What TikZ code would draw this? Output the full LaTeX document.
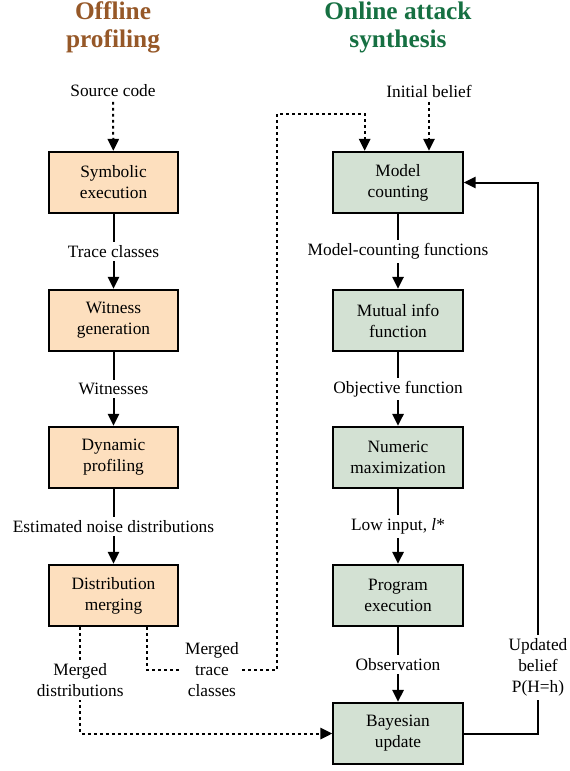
\documentclass[tikz,border=0pt]{standalone}
\usepackage{fontspec}
\setmainfont{Liberation Serif}
\usetikzlibrary{arrows.meta}
\definecolor{offfill}{RGB}{253,223,190}
\definecolor{onfill}{RGB}{211,225,211}
\definecolor{offtitle}{RGB}{150,88,40}
\definecolor{ontitle}{RGB}{22,112,66}

\begin{document}
\begin{tikzpicture}[x=0.75pt,y=-0.75pt, font=\fontsize{13}{15.75}\selectfont,
	title/.style={font=\fontsize{19}{21}\selectfont\bfseries, align=center},
	box/.style={draw, line width=1.5pt, minimum width=97pt, minimum height=46pt, align=center},
	offbox/.style={box, fill=offfill},
	onbox/.style={box, fill=onfill},
	lbl/.style={fill=white, align=center, inner sep=2.5pt},
	flow/.style={line width=1.5pt, -{Triangle[length=9pt,width=8.5pt]}},
	dots/.style={flow, dash pattern=on 2.2pt off 2.3pt}]
	\useasboundingbox (0,0) rectangle (569,771);
	% titles
	\node[title, text=offtitle] (offT) at (113,27) {Offline\\profiling};
	\node[title, text=ontitle] (onT) at (398,27) {Online attack\\synthesis};
	% offline column
	\node (src) at (113,91) {Source code};
	\node[offbox] (sym) at (113.5,182.5) {Symbolic\\execution};
	\node[offbox] (wit) at (113.5,320.5) {Witness\\generation};
	\node[offbox] (dyn) at (113.5,457.5) {Dynamic\\profiling};
	\node[offbox] (dist) at (113.5,595.5) {Distribution\\merging};
	\draw[dots] (src) -- (sym);
	\draw[flow] (sym) -- node[lbl] {Trace classes} (wit);
	\draw[flow] (wit) -- node[lbl] {Witnesses} (dyn);
	\draw[flow] (dyn) -- node[lbl] {Estimated noise distributions} (dist);
	% online column
	\node (init) at (429,91) {Initial belief};
	\node[onbox] (mc) at (398,182.5) {Model\\counting};
	\node[onbox] (mi) at (398,320.5) {Mutual info\\function};
	\node[onbox] (num) at (398,457.5) {Numeric\\maximization};
	\node[onbox] (prog) at (398,595.5) {Program\\execution};
	\node[onbox] (bay) at (398,733.5) {Bayesian\\update};
	\draw[dots] (init) -- (init |- mc.north);
	\draw[flow] (mc) -- node[lbl] {Model-counting functions} (mi);
	\draw[flow] (mi) -- node[lbl] {Objective function} (num);
	\draw[flow] (num) -- node[lbl] {Low input, \textit{l}*} (prog);
	\draw[flow] (prog) -- node[lbl] {Observation} (bay);
	% cross links
	\draw[dots] ([xshift=25pt]dist.south) |- node[lbl, pos=0.75] {Merged\\trace\\classes} (277,670)
		-- (277,114) -| ([xshift=-25pt]mc.north);
	\draw[dots] ([xshift=-25pt]dist.south) |- node[lbl, pos=0.25] {Merged\\distributions} (bay.west);
	\coordinate (fb) at (538,182.5);
	\draw[flow] (bay.east) -| node[lbl, pos=0.56] {Updated\\belief\\P(H=h)} (fb) -- (mc.east);
\end{tikzpicture}
\end{document}
